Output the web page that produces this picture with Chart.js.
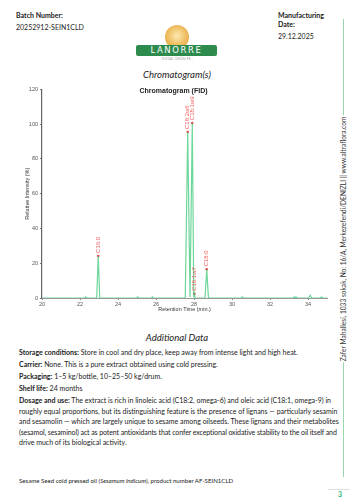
<!DOCTYPE html>
<html>
<head>
<meta charset="utf-8">
<script src="https://cdn.jsdelivr.net/npm/chart.js@4.4.1/dist/chart.umd.min.js"></script>
<style>
  html, body { margin: 0; padding: 0; background: #fff; }
  body { width: 354px; height: 500px; position: relative; overflow: hidden; font-family: Lato, "Open Sans", sans-serif; color: #222; }
  .abs { position: absolute; white-space: nowrap; }
  .hdr { font-size: 7px; }
  .hdr b { font-weight: 700; }
  .logo-ball { position: absolute; left: 165px; top: 25px; width: 24px; height: 24px; border-radius: 50%;
    background: radial-gradient(circle at 50% 45%, #fbe9b0 0%, #f1c46b 45%, #e7a94a 75%, rgba(255,255,255,0) 76%); }
  .logo-bar { position: absolute; left: 136px; top: 45px; width: 81px; height: 11px; border-radius: 2px; background: #2e8b4e;
    color: #fff; font-size: 8.5px; letter-spacing: 1.6px; text-align: center; line-height: 11px; font-family: "DejaVu Sans", sans-serif; }
  .logo-sub { position: absolute; left: 136px; width: 81px; top: 57px; text-align: center; font-size: 3px; color: #999; letter-spacing: 0.3px; }
  .sec { font-size: 9.5px; font-style: italic; width: 354px; text-align: center; left: 0; }
  .txt { font-size: 7px; line-height: 10.5px; left: 19px; }
  .tight { letter-spacing: -0.1px; }
  .vline { position: absolute; left: 343px; width: 1px; background: #9ad6b0; }
  .addr { position: absolute; font-size: 6.6px; color: #333; background: #fff; white-space: nowrap;
    transform: translate(-50%, -50%) rotate(-90deg); left: 343px; top: 239px; padding: 0 1px; }
  #chartBox { position: absolute; left: 0; top: 80px; width: 335px; height: 240px; }
</style>
</head>
<body>
<div class="abs hdr" style="left:16px; top:11px;"><b>Batch Number:</b></div>
<div class="abs hdr" style="left:16px; top:23px;">20252912-SEIN1CLD</div>
<div class="abs hdr" style="left:278px; top:11px; line-height:9px;"><b>Manufacturing<br>Date:</b></div>
<div class="abs hdr" style="left:278px; top:32px;">29.12.2025</div>

<div class="logo-ball"></div>
<div class="logo-bar">LANORRE</div>
<div class="logo-sub">- DOĞAL ÜRÜNLER -</div>

<div class="abs sec" style="top:69px;">Chromatogram(s)</div>

<div id="chartBox"><canvas id="chromChart"></canvas></div>

<div class="abs sec" style="top:332px;">Additional Data</div>

<div class="abs txt" style="top:347px;"><b>Storage conditions:</b> Store in cool and dry place, keep away from intense light and high heat.</div>
<div class="abs txt" style="top:359px;"><b>Carrier:</b> None. This is a pure extract obtained using cold pressing.</div>
<div class="abs txt" style="top:371px;"><b>Packaging:</b> 1–5 kg/bottle, 10–25–50 kg/drum.</div>
<div class="abs txt" style="top:383px;"><b>Shelf life:</b> 24 months</div>
<div class="abs txt" style="top:395px;"><b>Dosage and use:</b> The extract is rich in linoleic acid (C18:2, omega-6) and oleic acid (C18:1, omega-9) in<br>roughly equal proportions, but its distinguishing feature is the presence of lignans — particularly sesamin<br>and sesamolin — which are largely unique to sesame among oilseeds. These lignans and their metabolites<br><span class="tight">(sesamol, sesaminol) act as potent antioxidants that confer exceptional oxidative stability to the oil itself and</span><br>drive much of its biological activity.</div>

<div class="abs" style="left:19px; top:477px; font-size:6.1px;">Sesame Seed cold pressed oil (<i>Sesamum indicum</i>), product number AF-SEIN1CLD</div>

<div class="vline" style="top:19px; height:458px;"></div>
<div class="addr">Zafer Mahallesi, 1033 sokak, No: 16/A, Merkezefendi/DENIZLI || www.altraflora.com</div>

<div class="abs" style="left:328px; top:489px; width:22px; height:1px; background:#ddd;"></div>
<div class="abs" style="left:338px; top:490px; font-size:7px; font-weight:700; color:#2bb673;">3</div>

<script>
// Chromatogram trace (retention time in min, relative intensity in %)
const retentionTimes = [20, 22.25, 22.3, 22.35, 22.88, 22.96, 23.04, 24.98, 25.03, 25.08, 25.76, 25.81, 25.86,
    27.54, 27.67, 27.79, 27.91, 27.99, 28.02, 28.06, 28.58, 28.67, 28.76, 30.5, 30.55, 30.6,
    33.22, 33.27, 33.32, 33.37, 33.42, 34.04, 34.12, 34.2, 34.66, 34.71, 34.76, 35];
const intensities = [0, 0, 0.6, 0, 0, 24.2, 0, 0, 0.6, 0, 0, 0.6, 0,
    0, 95.5, 0.5, 100.6, 0.3, 2.4, 0, 0, 16.5, 0, 0, 0.6, 0,
    0, 0.6, 0, 0.6, 0, 0, 1.6, 0, 0, 0.6, 0, 0];

// Labelled peaks
const peakNames = ['C16:0', 'C18:2w6', 'C18:1w9', 'C18:1w7', 'C18:0'];
const peakTimes = [22.96, 27.67, 27.91, 28.02, 28.67];
const peakHeights = [24.2, 95.5, 100.6, 2.4, 16.5];

// Axis settings
const xRange = [20, 35];
const yRange = [0, 120];
const xStep = 2;
const yStep = 20;

const tracePoints = retentionTimes.map((t, i) => ({ x: t, y: intensities[i] }));
const apexPoints = peakTimes.map((t, i) => ({ x: t, y: peakHeights[i] }));

// Draw peak names rotated above each apex
const peakLabelPlugin = {
    id: 'peakLabels',
    afterDatasetsDraw(chart) {
        const ctx = chart.ctx;
        const xs = chart.scales.x;
        const ys = chart.scales.y;
        ctx.save();
        ctx.fillStyle = 'rgba(240, 60, 60, 0.85)';
        ctx.font = '6px "Liberation Sans", Arial, sans-serif';
        ctx.textAlign = 'left';
        ctx.textBaseline = 'middle';
        peakNames.forEach((name, i) => {
            const px = xs.getPixelForValue(peakTimes[i]);
            const py = ys.getPixelForValue(peakHeights[i]);
            ctx.save();
            ctx.translate(px, py - 3);
            ctx.rotate(-Math.PI / 2);
            ctx.fillText(name, 0, 0);
            ctx.restore();
        });
        ctx.restore();
    }
};

const tickFont = { family: '"Liberation Sans", Arial, sans-serif', size: 5.5 };

new Chart(document.getElementById('chromChart'), {
    type: 'line',
    data: {
        datasets: [{
            data: tracePoints,
            borderColor: 'rgba(60, 200, 120, 0.75)',
            borderWidth: 1.2,
            pointRadius: 0,
            tension: 0,
            fill: false
        }, {
            type: 'scatter',
            data: apexPoints,
            pointRadius: 1.3,
            pointBackgroundColor: 'rgba(240, 50, 50, 0.9)',
            pointBorderWidth: 0
        }]
    },
    options: {
        responsive: true,
        maintainAspectRatio: false,
        animation: false,
        layout: { padding: { left: 20, right: 8, top: 0, bottom: 3.7 } },
        plugins: {
            legend: { display: false },
            tooltip: { enabled: false },
            title: {
                display: true,
                text: 'Chromatogram (FID)',
                color: '#222',
                font: { family: '"Liberation Sans", Arial, sans-serif', size: 7, weight: 'bold' },
                padding: { top: 7, bottom: -6 }
            }
        },
        scales: {
            x: {
                type: 'linear',
                min: xRange[0],
                max: xRange[1],
                grid: { drawOnChartArea: false, drawTicks: true, tickLength: 2, color: '#888' },
                border: { color: '#999', width: 1 },
                ticks: { stepSize: xStep, includeBounds: false, color: '#555', font: tickFont, padding: 1, maxRotation: 0 },
                title: { display: true, text: 'Retention Time (min.)', color: '#333', font: tickFont, padding: { top: 2, bottom: 4 } },
                afterFit(scale) { scale.height = 18.3; }
            },
            y: {
                min: yRange[0],
                max: yRange[1],
                grid: { drawOnChartArea: false, drawTicks: true, tickLength: 2, color: '#777' },
                border: { color: '#666', width: 1.2 },
                ticks: { stepSize: yStep, color: '#555', font: tickFont, padding: 2 },
                title: { display: true, text: 'Relative Intensity (%)', color: '#333', font: tickFont, padding: { top: 4, bottom: 2 } },
                afterFit(scale) { scale.width = 22; }
            }
        }
    },
    plugins: [peakLabelPlugin]
});
</script>
</body>
</html>
